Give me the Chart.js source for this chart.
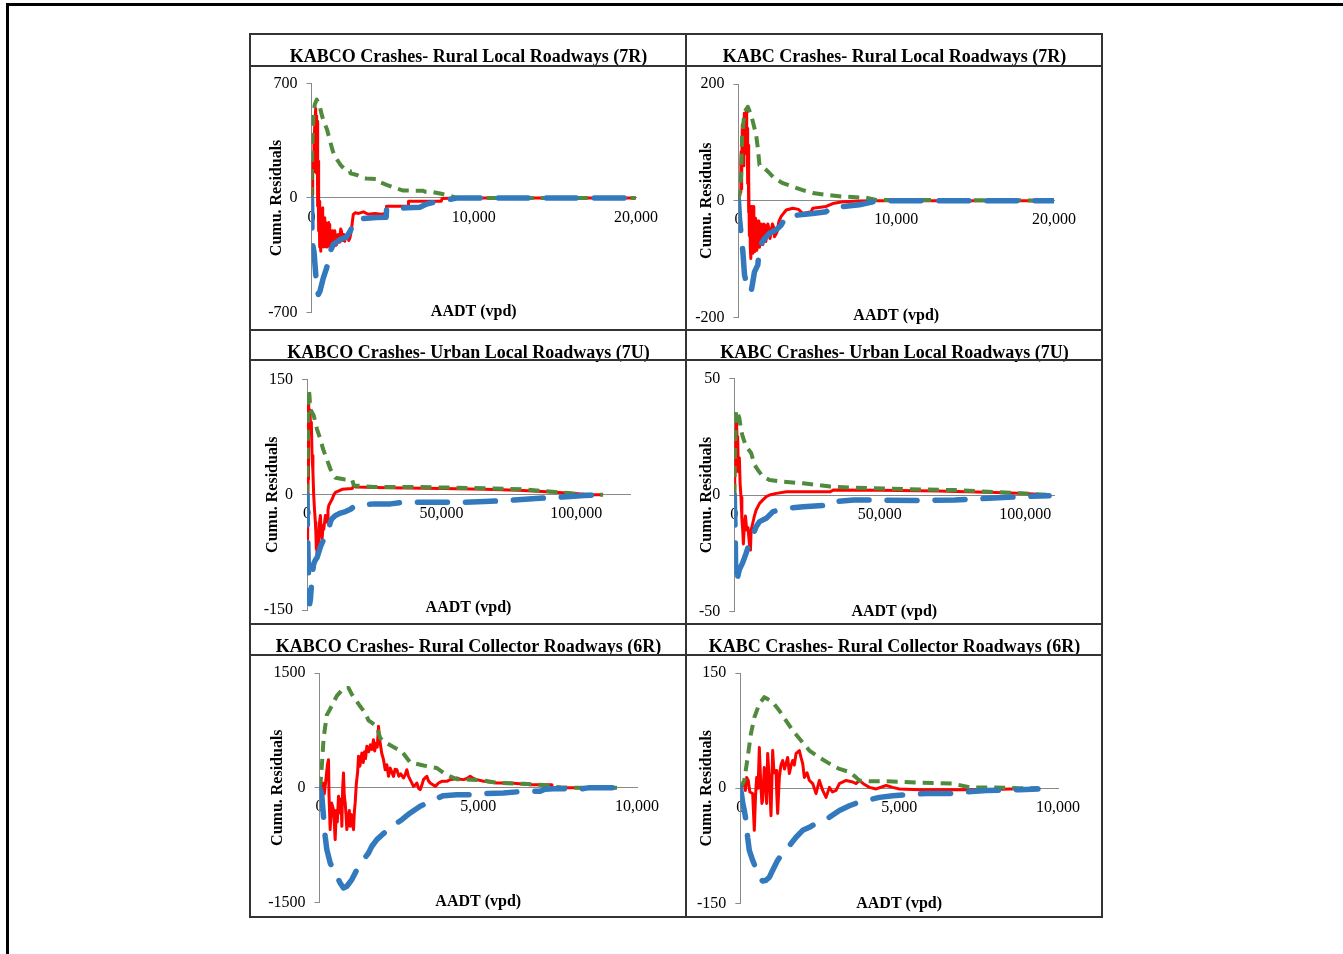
<!DOCTYPE html>
<html>
<head>
<meta charset="utf-8">
<script src="https://cdn.jsdelivr.net/npm/chart.js@4.4.1/dist/chart.umd.min.js"></script>
<style>
html,body{margin:0;padding:0;background:#fff;}
body{width:1343px;height:954px;position:relative;overflow:hidden;}
.frame{position:absolute;left:6px;top:3px;width:1337px;height:951px;border-top:3px solid #000;border-left:3px solid #000;box-sizing:border-box;}
canvas{position:absolute;}
.ln{position:absolute;background:#333;z-index:5;}
</style>
</head>
<body>
<div class="frame"></div>
<div id="wrap"></div>
<script>
// ---------------- DATA ----------------
const panelTitles = [
  'KABCO Crashes- Rural Local Roadways (7R)',
  'KABC Crashes- Rural Local Roadways (7R)',
  'KABCO Crashes- Urban Local Roadways (7U)',
  'KABC Crashes- Urban Local Roadways (7U)',
  'KABCO Crashes- Rural Collector Roadways (6R)',
  'KABC Crashes- Rural Collector Roadways (6R)'
];
const yAxisTitle = 'Cumu. Residuals';
const xAxisTitle = 'AADT (vpd)';

const xTicks7R = [0, 10000, 20000];
const xTicks7U = [0, 50000, 100000];
const xTicks6R = [0, 5000, 10000];
const yTicksKabco7R = [-700, 0, 700];
const yTicksKabc7R = [-200, 0, 200];
const yTicksKabco7U = [-150, 0, 150];
const yTicksKabc7U = [-50, 0, 50];
const yTicksKabco6R = [-1500, 0, 1500];
const yTicksKabc6R = [-150, 0, 150];
const xMax7R = 20000, xMax7U_kabco = 120000, xMax7U_kabc = 110000, xMax6R = 10000;

// KABCO 7R
const kabco7R_residual = [[0,0],[31,61],[60,20],[90,224],[113,160],[150,326],[195,428],[256,546],[280,300],[300,500],[318,407],[335,150],[350,468],[365,100],[379,326],[395,-50],[410,122],[425,-150],[441,224],[455,-200],[470,-20],[485,-300],[500,-122],[512,-250],[523,-41],[540,-280],[564,-326],[580,-150],[600,-122],[620,-300],[640,-244],[660,-100],[680,-60],[700,-280],[728,-204],[750,-300],[780,-122],[805,-290],[830,-265],[855,-150],[880,-163],[905,-300],[933,-285],[955,-180],[980,-204],[1005,-290],[1030,-244],[1055,-150],[1080,-163],[1110,-300],[1138,-285],[1170,-200],[1200,-224],[1225,-290],[1250,-265],[1300,-200],[1343,-204],[1370,-280],[1400,-250],[1430,-200],[1450,-224],[1500,-290],[1548,-285],[1575,-230],[1600,-244],[1650,-224],[1700,-270],[1753,-244],[1800,-190],[1850,-204],[1900,-260],[1958,-224],[2000,-250],[2050,-265],[2100,-230],[2163,-244],[2250,-224],[2300,-260],[2368,-244],[2450,-204],[2573,-102],[2700,-90],[2900,-95],[3200,-85],[3500,-100],[3900,-95],[4300,-100],[4600,-95],[4620,-51],[5950,-51],[5980,-20],[8000,-20],[8050,-4],[9000,0],[19980,0]];
const kabco7R_upper = [[0,0],[20,150],[60,350],[120,500],[200,570],[320,600],[480,570],[650,500],[830,450],[950,420],[1140,350],[1300,290],[1450,250],[1600,230],[1800,200],[2000,180],[2200,170],[2370,165],[2400,150],[2800,140],[3200,120],[3400,118],[4000,116],[4100,100],[4630,80],[5200,60],[5650,45],[6880,44],[7000,38],[7500,35],[8000,25],[8520,14],[8940,0],[19980,0]];
const kabco7R_lower = [[0,0],[15,-100],[30,-200],[60,-280],[155,-330],[280,-490],[420,-590],[520,-570],[725,-490],[935,-428],[1140,-330],[1340,-285],[1750,-255],[2150,-240],[2400,-200],[2570,-160],[2780,-132],[3000,-128],[4000,-120],[4600,-118],[4630,-67],[5870,-60],[6680,-57],[7090,-37],[8100,-16],[8720,-6],[9000,0],[19980,0]];

// KABC 7R
const kabc7R_residual = [[0,0],[127,15],[150,60],[169,84],[190,20],[211,44],[240,130],[275,124],[300,60],[338,95],[370,150],[401,147],[440,100],[486,152],[520,80],[549,124],[580,30],[613,95],[635,-20],[655,38],[690,-60],[718,-13],[750,-80],[782,-99],[810,-10],[845,-36],[880,-90],[909,-70],[940,-10],[972,-25],[1000,-80],[1035,-87],[1080,-30],[1120,-47],[1160,-85],[1204,-76],[1250,-35],[1289,-42],[1330,-80],[1373,-70],[1420,-40],[1458,-47],[1500,-75],[1543,-59],[1600,-40],[1669,-42],[1730,-70],[1796,-59],[1860,-40],[1923,-47],[2000,-65],[2071,-53],[2150,-40],[2219,-45],[2280,-62],[2345,-59],[2451,-53],[2557,-36],[2705,-27],[3022,-16],[3444,-13],[3800,-15],[4078,-22],[4606,-19],[4712,-13],[5556,-10],[5980,-5],[6614,-2],[7670,-0.5],[8500,0],[19980,0]];
const kabc7R_upper = [[0,0],[100,20],[170,44],[232,112],[380,152],[590,161],[800,147],[1014,124],[1120,112],[1225,90],[1330,61],[1540,58],[1860,50],[2280,38],[2810,30],[3440,24],[4080,18],[4710,13],[5560,10],[6610,7],[8090,5],[8730,1],[12000,1],[18000,0.5],[19980,0]];
const kabc7R_lower = [[0,0],[60,-30],[170,-59],[275,-87],[380,-127],[590,-153],[800,-156],[910,-139],[1014,-122],[1225,-110],[1330,-79],[1650,-65],[1965,-56],[2390,-50],[2700,-42],[3020,-27],[3655,-25],[4710,-22],[5560,-19],[5770,-13],[6610,-10],[7670,-7],[8520,-2],[9000,0],[19980,0]];

// KABCO 7U
const kabco7U_residual = [[0,0],[150,-30],[300,-58],[400,20],[500,90],[620,120],[800,100],[1100,110],[1400,80],[1620,94],[1866,51],[2200,30],[2490,-1],[2800,-20],[3110,-36],[3300,-50],[3480,-71],[3600,-60],[3730,-77],[4000,-60],[4200,-70],[4350,-49],[4700,-35],[4980,-27],[5300,-50],[5600,-58],[6000,-40],[6220,-45],[6840,-27],[7460,-36],[7800,-20],[8090,-14],[8710,-10],[9330,-6],[10000,0],[10570,3],[11820,5],[13060,7],[16800,8],[17400,12],[18000,10],[30000,9],[50000,8],[65900,7],[78400,5.6],[90800,3.5],[100800,1.3],[104500,0],[110000,0]];
const kabco7U_upper = [[0,0],[250,40],[450,100],[620,137],[900,130],[1240,111],[2490,103],[3730,85],[4980,72],[5900,60],[6840,51],[8710,33],[10570,22],[13680,20],[16800,19],[17400,12],[25000,10],[40000,10],[55000,9],[70000,8],[80000,7],[90000,4],[97000,2],[103000,0],[110000,0]];
const kabco7U_lower = [[0,0],[100,-30],[250,-57],[400,-80],[600,-110],[800,-135],[995,-142],[1300,-135],[1600,-120],[1866,-105],[2490,-90],[3100,-85],[3730,-82],[4350,-75],[4980,-68],[6220,-58],[7460,-50],[8090,-45],[8710,-35],[9330,-31],[10570,-27],[12440,-24],[14300,-22],[16170,-19],[18000,-14],[25000,-12],[31000,-12],[36000,-10],[58000,-10],[66000,-9],[77000,-7],[85000,-5],[95000,-3],[103000,-1],[110000,0]];

// KABC 7U
const kabc7U_residual = [[0,0],[100,5],[200,15],[300,10],[400,25],[500,20],[650,31],[810,30],[1000,20],[1160,25],[1400,10],[1740,16],[2000,5],[2310,-1],[2600,-10],[2890,-15],[3120,-21],[3500,-12],[3820,-9],[4280,-15],[4700,-14],[5210,-21],[5550,-23.6],[5790,-15],[6360,-12],[6900,-9],[7520,-6.4],[8100,-5],[8680,-3.6],[9830,-2.1],[10990,-0.7],[12150,0],[14460,0.7],[17930,1.4],[33000,1.4],[34000,2.1],[50000,2],[70000,1.7],[90000,1.1],[100000,0.6],[108000,0]];
const kabc7U_upper = [[0,0],[150,10],[300,22],[580,35],[810,36.4],[1160,35],[1740,33],[2310,28],[2890,25],[4000,21],[5790,18],[6940,13],[8100,10.7],[9830,7.9],[12150,6.4],[16800,5.7],[23700,5],[33000,3.6],[37600,3.3],[46900,2.9],[64200,2.4],[75800,2.1],[87400,1.4],[98900,0.7],[108200,0]];
const kabc7U_lower = [[0,0],[100,-8],[300,-15],[450,-30],[580,-37.9],[810,-37],[1740,-32],[2890,-29],[4050,-25],[5210,-20.7],[7520,-13.6],[8680,-11.4],[10990,-10],[13300,-7.1],[17930,-5.7],[23700,-5],[33000,-4.3],[34100,-2.9],[41000,-2.1],[64200,-2.4],[75800,-2.1],[82700,-1.7],[87400,-1.4],[98900,-0.7],[108200,-0.3]];

// KABCO 6R
const kabco6R_residual = [[0,0],[50,-30],[100,60],[150,-80],[200,100],[250,300],[284,366],[300,-100],[336,-549],[380,-200],[441,-288],[494,-680],[530,-300],[560,-450],[599,-113],[630,-250],[651,-331],[680,-150],[704,-506],[730,0],[756,192],[780,-100],[809,-200],[835,-350],[861,-549],[900,-400],[940,-300],[966,-506],[1000,-350],[1030,-450],[1071,-549],[1100,-300],[1124,-200],[1160,50],[1200,200],[1229,410],[1270,280],[1300,350],[1334,453],[1380,330],[1420,470],[1450,380],[1491,541],[1550,470],[1600,560],[1650,500],[1701,628],[1740,480],[1780,580],[1820,530],[1859,802],[1890,650],[1911,584],[1960,450],[2016,366],[2069,235],[2120,300],[2174,148],[2226,257],[2280,200],[2331,148],[2380,240],[2436,235],[2500,150],[2560,180],[2646,126],[2700,170],[2751,235],[2800,150],[2856,105],[2910,60],[2961,17],[3010,30],[3066,61],[3120,-10],[3171,-26],[3230,40],[3276,105],[3330,130],[3381,148],[3430,90],[3486,61],[3560,40],[3644,17],[3700,40],[3749,61],[3854,83],[4011,83],[4116,105],[4220,110],[4326,126],[4430,110],[4536,105],[4640,120],[4746,148],[4850,120],[4956,105],[5166,83],[5400,70],[5586,61],[6006,61],[6300,50],[6636,39],[7056,39],[7300,39],[7320,0],[9330,0]];
const kabco6R_upper = [[0,0],[40,100],[80,320],[130,650],[230,950],[336,1030],[546,1200],[756,1300],[914,1305],[1019,1220],[1281,1064],[1439,977],[1544,880],[1806,800],[1911,650],[2016,606],[2384,519],[2594,475],[2856,330],[3276,290],[3696,257],[3906,192],[4116,148],[4326,110],[4956,100],[5200,90],[5586,65],[6426,50],[7056,35],[7300,15],[7600,5],[7900,0],[9370,0]];
const kabco6R_lower = [[0,0],[40,-40],[74,-113],[126,-375],[179,-637],[231,-811],[336,-985],[441,-1073],[546,-1160],[651,-1247],[756,-1312],[861,-1290],[1019,-1203],[1124,-1116],[1229,-1029],[1386,-942],[1544,-855],[1649,-767],[1806,-680],[2016,-600],[2174,-549],[2436,-462],[2594,-419],[2856,-331],[3171,-244],[3381,-200],[3591,-157],[3906,-105],[4326,-92],[4746,-92],[5166,-78],[5796,-70],[6426,-48],[6951,-48],[7100,-20],[7371,-13],[8316,-13],[8500,0],[9370,0]];

// KABC 6R
const kabc6R_residual = [[0,0],[60,3],[126,6],[160,-3],[200,14],[250,10],[300,-5],[389,-7],[441,-55],[480,-10],[515,14],[560,0],[599,53],[640,10],[680,-20],[704,-16],[756,27],[800,5],[830,-20],[861,45],[900,20],[940,-10],[966,-36],[1019,49],[1060,20],[1124,23],[1150,-10],[1176,-33],[1229,14],[1280,30],[1334,36],[1390,25],[1439,32],[1491,40],[1544,19],[1600,30],[1649,36],[1700,30],[1754,45],[1859,49],[1911,40],[1964,32],[2016,14],[2100,20],[2174,10],[2279,6],[2384,-7],[2489,10],[2594,-3],[2699,-12],[2804,1],[2900,-5],[3014,-3],[3119,6],[3329,10],[3539,8],[3644,6],[3749,10],[3900,5],[4064,1],[4274,-1],[4589,3.5],[4800,1],[5009,-1],[5640,-2],[6690,-2],[7740,-2],[8500,-1],[9370,0]];
const kabc6R_upper = [[0,0],[126,10],[231,40],[336,71],[441,92],[599,110],[756,118.5],[861,116],[1019,112],[1229,101],[1439,88],[1649,75],[1911,62],[2174,49],[2489,40],[2804,32],[3119,25],[3434,21],[3644,14],[3749,10],[4064,9],[4589,9],[5640,7],[6690,6],[7214,1],[7740,1],[8790,0],[9370,0]];
const kabc6R_lower = [[0,0],[40,-8],[80,-20],[126,-29],[179,-42],[231,-64],[284,-81],[389,-94],[494,-105],[599,-116],[704,-121],[809,-120],[914,-116],[1019,-107],[1176,-94],[1334,-85],[1544,-75],[1754,-64],[1964,-55],[2174,-51],[2384,-46],[2594,-42],[2804,-38],[3119,-29],[3434,-23],[3749,-18],[3959,-16],[4379,-12],[4799,-10],[5430,-8],[5850,-7],[6690,-7],[7110,-5],[7740,-3],[8790,-2],[9370,-1]];

// ---------------- STYLE / LAYOUT ----------------
const FONT = "'Liberation Serif', 'Times New Roman', serif";
const RED = '#ff0000', GREEN = '#508a3c', BLUE = '#3279be', AXIS = '#8a8a8a';

const panels = [
  {title: panelTitles[0], res: kabco7R_residual, up: kabco7R_upper, lo: kabco7R_lower, xTicks: xTicks7R, xMax: xMax7R, yTicks: yTicksKabco7R,
   cx:251, cy:35, cw:435, ch:295, l:311.5, r:636, t:83.3, b:312.5, titleY:57.5, yTitleX:276.7, xTitleY:312.3},
  {title: panelTitles[1], res: kabc7R_residual, up: kabc7R_upper, lo: kabc7R_lower, xTicks: xTicks7R, xMax: xMax7R, yTicks: yTicksKabc7R,
   cx:687, cy:35, cw:415, ch:295, l:738.5, r:1054, t:84, b:317.3, titleY:57.4, yTitleX:706.8, xTitleY:315.6},
  {title: panelTitles[2], res: kabco7U_residual, up: kabco7U_upper, lo: kabco7U_lower, xTicks: xTicks7U, xMax: xMax7U_kabco, yTicks: yTicksKabco7U,
   cx:251, cy:331, cw:435, ch:293, l:307, r:630, t:379.3, b:610, titleY:353.5, yTitleX:273.3, xTitleY:608.3},
  {title: panelTitles[3], res: kabc7U_residual, up: kabc7U_upper, lo: kabc7U_lower, xTicks: xTicks7U, xMax: xMax7U_kabc, yTicks: yTicksKabc7U,
   cx:687, cy:331, cw:415, ch:293, l:734.3, r:1054.3, t:378.3, b:611.7, titleY:353.3, yTitleX:706.8, xTitleY:611.8},
  {title: panelTitles[4], res: kabco6R_residual, up: kabco6R_upper, lo: kabco6R_lower, xTicks: xTicks6R, xMax: xMax6R, yTicks: yTicksKabco6R,
   cx:251, cy:625, cw:435, ch:292, l:319.5, r:637, t:673, b:902.3, titleY:647.5, yTitleX:277.5, xTitleY:902.3},
  {title: panelTitles[5], res: kabc6R_residual, up: kabc6R_upper, lo: kabc6R_lower, xTicks: xTicks6R, xMax: xMax6R, yTicks: yTicksKabc6R,
   cx:687, cy:625, cw:415, ch:292, l:740.3, r:1058, t:673, b:903.3, titleY:647.3, yTitleX:706.8, xTitleY:903.8}
];

const toXY = arr => arr.map(p => ({x: p[0], y: p[1]}));
const wrap = document.getElementById('wrap');
const X2H = 9;

panels.forEach(p => {
  const cv = document.createElement('canvas');
  cv.width = p.cw; cv.height = p.ch;
  cv.style.left = p.cx + 'px'; cv.style.top = p.cy + 'px';
  cv.style.width = p.cw + 'px'; cv.style.height = p.ch + 'px';
  wrap.appendChild(cv);
  const cl = p.l - p.cx, cr = p.r - p.cx, ct = p.t - p.cy, cb = p.b - p.cy;
  const ty = p.titleY - p.cy;
  const yMax = p.yTicks[p.yTicks.length - 1], yMin = p.yTicks[0];
  new Chart(cv, {
    type: 'line',
    data: {
      datasets: [
        {label: 'Cumulative residuals', data: toXY(p.res), borderColor: RED, borderWidth: 3, order: 3},
        {label: 'Upper bound', data: toXY(p.up), borderColor: GREEN, borderWidth: 4, borderDash: [11, 7], order: 2},
        {label: 'Lower bound', data: toXY(p.lo), borderColor: BLUE, borderWidth: 5.5, borderDash: [30, 18], borderCapStyle: 'round', order: 1}
      ]
    },
    options: {
      responsive: false, animation: false, devicePixelRatio: 1,
      elements: {point: {radius: 0, hoverRadius: 0}, line: {tension: 0, fill: false, borderJoinStyle: 'round'}},
      layout: {padding: {left: 0, right: 0, top: 0, bottom: p.ch - cb - X2H}},
      plugins: {
        legend: {display: false}, tooltip: {enabled: false},
        title: {display: true, text: p.title, color: '#000',
          font: {family: FONT, size: 18, weight: 'bold', lineHeight: '22px'},
          padding: {top: ty - 11, bottom: ct - ty - 11}}
      },
      scales: {
        x: {
          type: 'linear', min: 0, max: p.xMax, position: {y: 0},
          afterBuildTicks: s => { s.ticks = p.xTicks.map(v => ({value: v})); },
          afterFit: s => { s.paddingLeft = 0; s.paddingRight = 0; },
          grid: {display: false, drawTicks: false, tickLength: 0},
          border: {display: true, color: AXIS, width: 1},
          ticks: {color: '#000', font: {family: FONT, size: 16}, padding: 10, maxRotation: 0, autoSkip: false,
            callback: v => Number(v).toLocaleString('en-US')}
        },
        x2: {
          type: 'linear', position: 'bottom', min: 0, max: 1, display: true,
          grid: {display: false, drawTicks: false}, border: {display: false},
          ticks: {display: false},
          afterFit: s => { s.height = X2H; s.paddingLeft = 0; s.paddingRight = 0; },
          title: {display: true, text: xAxisTitle, color: '#000',
            font: {family: FONT, size: 16, weight: 'bold', lineHeight: '18px'},
            padding: {top: 0, bottom: cb - (p.xTitleY - p.cy)}}
        },
        y: {
          type: 'linear', position: 'left', min: yMin, max: yMax,
          afterBuildTicks: s => { s.ticks = p.yTicks.map(v => ({value: v})); },
          afterFit: s => { s.width = cl; s.paddingTop = 0; s.paddingBottom = 0; },
          grid: {display: true, drawOnChartArea: false, drawTicks: true, tickLength: 5, color: AXIS},
          border: {display: true, color: AXIS, width: 1},
          ticks: {color: '#000', font: {family: FONT, size: 16}, padding: 9, callback: v => String(v)},
          title: {display: true, text: yAxisTitle, color: '#000',
            font: {family: FONT, size: 16, weight: 'bold', lineHeight: '18px'},
            padding: {top: (p.yTitleX - p.cx) - 9, bottom: 0}}
        },
        yRight: {
          type: 'linear', position: 'right', min: 0, max: 1, display: true,
          grid: {display: false, drawTicks: false}, border: {display: false},
          ticks: {display: false},
          afterFit: s => { s.width = p.cw - cr; s.paddingTop = 0; s.paddingBottom = 0; }
        }
      }
    }
  });
});

// table borders
function line(x, y, w, h) {
  const d = document.createElement('div');
  d.className = 'ln';
  d.style.left = x + 'px'; d.style.top = y + 'px'; d.style.width = w + 'px'; d.style.height = h + 'px';
  document.body.appendChild(d);
}
line(249, 33, 854, 2);   // top
line(249, 916, 854, 2);  // bottom
line(249, 33, 2, 885);   // left
line(1101, 33, 2, 885);  // right
line(685, 33, 2, 885);   // middle
line(249, 329, 854, 2);  // row sep 1
line(249, 623, 854, 2);  // row sep 2
line(249, 65, 854, 2);   // title divider row 1
line(249, 359, 854, 2);  // title divider row 2
line(249, 654, 854, 2);  // title divider row 3
</script>
</body>
</html>
